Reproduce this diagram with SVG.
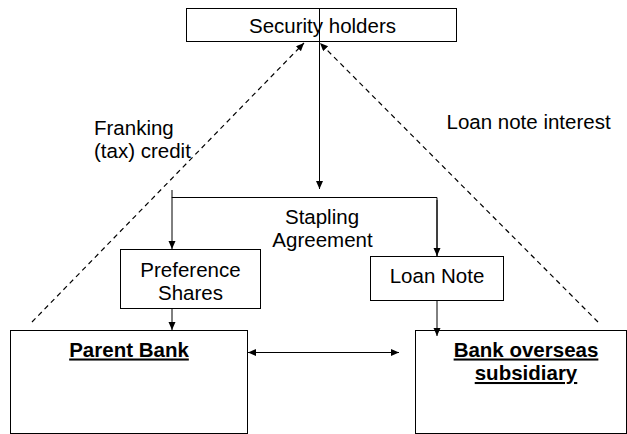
<svg xmlns="http://www.w3.org/2000/svg" width="627" height="434" viewBox="0 0 627 434">
<style>
.box{fill:#fff;stroke:#000;stroke-width:1}
.t{font-family:"Liberation Sans",Arial,sans-serif;font-size:20.5px;fill:#000}
.b{font-weight:bold;text-decoration:underline}
.ln{fill:none;stroke:#000;stroke-width:1}
.d{stroke-dasharray:5,4;stroke-width:1.2}
</style>
<defs>
<marker id="ah" markerUnits="userSpaceOnUse" markerWidth="8" markerHeight="8" refX="8" refY="3.5" orient="auto">
<path d="M0,0 L8,3.5 L0,7 z" fill="#000"/>
</marker>
<marker id="ahs" markerUnits="userSpaceOnUse" markerWidth="8" markerHeight="8" refX="0" refY="3.5" orient="auto">
<path d="M8,0 L0,3.5 L8,7 z" fill="#000"/>
</marker>
</defs>
<g id="security-holders">
<rect class="box" x="186.5" y="8.5" width="270" height="33"/>
<text class="t" x="322.5" y="33" text-anchor="middle">Security holders</text>
</g>
<g id="preference-shares">
<rect class="box" x="120.5" y="249.5" width="140" height="59"/>
<text class="t" x="190.5" y="277" text-anchor="middle">Preference</text>
<text class="t" x="190.5" y="299.5" text-anchor="middle">Shares</text>
</g>
<g id="loan-note">
<rect class="box" x="370.5" y="256.5" width="133" height="44"/>
<text class="t" x="437" y="282.5" text-anchor="middle">Loan Note</text>
</g>
<g id="parent-bank">
<rect class="box" x="10.5" y="330.5" width="237" height="103"/>
<text class="t b" x="129" y="356.5" text-anchor="middle">Parent Bank</text>
</g>
<g id="bank-overseas-subsidiary">
<rect class="box" x="415.5" y="330.5" width="211" height="103"/>
<text class="t b" x="526" y="356.5" text-anchor="middle">Bank overseas</text>
<text class="t b" x="526" y="380" text-anchor="middle">subsidiary</text>
</g>
<g id="labels">
<text class="t" x="94" y="135">Franking</text>
<text class="t" x="94" y="157.5">(tax) credit</text>
<text class="t" x="446.5" y="128.5">Loan note interest</text>
<text class="t" x="322" y="224" text-anchor="middle">Stapling</text>
<text class="t" x="322.5" y="246.5" text-anchor="middle">Agreement</text>
</g>
<g id="connectors">
<line class="ln" x1="319.5" y1="8" x2="319.5" y2="189" marker-end="url(#ah)"/>
<polyline class="ln" points="172,190 172,197.5 437,197.5 437,256" />
<line class="ln" x1="172" y1="197" x2="172" y2="249" marker-end="url(#ah)"/>
<line class="ln" x1="437" y1="200" x2="437" y2="256" marker-end="url(#ah)"/>
<line class="ln" x1="172" y1="309" x2="172" y2="330" marker-end="url(#ah)"/>
<line class="ln" x1="437" y1="301" x2="437" y2="336" marker-end="url(#ah)"/>
<line class="ln" x1="248" y1="352.5" x2="399" y2="352.5" marker-start="url(#ahs)" marker-end="url(#ah)"/>
<line class="ln d" x1="32" y1="322" x2="304" y2="43" marker-end="url(#ah)"/>
<line class="ln d" x1="598" y1="322" x2="320" y2="43" marker-end="url(#ah)"/>
</g>
</svg>
